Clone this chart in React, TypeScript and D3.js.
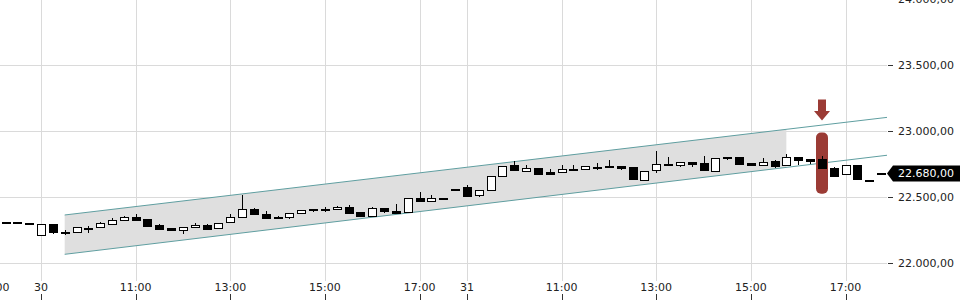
import React from "react";
import * as d3 from "d3";

// ---- data ----
const days = ["29", "30", "31"];
const slots = ["09:00","09:15","09:30","09:45","10:00","10:15","10:30","10:45","11:00","11:15","11:30","11:45","12:00","12:15","12:30","12:45","13:00","13:15","13:30","13:45","14:00","14:15","14:30","14:45","15:00","15:15","15:30","15:45","16:00","16:15","16:30","16:45","17:00","17:15","17:30","17:45"];
const prevDaySlots = ["17:00", "17:15", "17:30", "17:45"];
const categories: string[] = [
  ...prevDaySlots.map((s) => `${days[0]} ${s}`),
  ...slots.map((s) => `${days[1]} ${s}`),
  ...slots.map((s) => `${days[2]} ${s}`),
];

const opens: (number | null)[] = [null,
  22310, 22315, 22305,
  22212, 22298, 22235, 22232, 22268, 22275, 22300, 22326, 22353, 22336, 22292, 22265, 22247, 22275, 22292, 22265, 22308, 22348, 22411, 22376, 22347, 22345, 22376, 22411, 22408, 22409, 22426, 22389, 22356, 22417, 22396, 22385, 22492, 22470, 22493, 22560,
  22576, 22515, 22553, 22659, 22742, 22701, 22720, 22694, 22689, 22711, 22712, 22733, 22735, 22735, 22727, 22636, 22705, 22755, 22742, 22767, 22760, 22705, 22806, 22808, 22762, 22745, 22773, 22745, 22805, 22790, 22790, 22724, 22674, 22742, 22630, 22681];
const highs: (number | null)[] = [null,
  22310, 22315, 22305,
  22298, 22298, 22252, 22275, 22283, 22312, 22342, 22358, 22373, 22336, 22295, 22265, 22273, 22308, 22297, 22305, 22373, 22514, 22417, 22394, 22357, 22380, 22406, 22411, 22429, 22434, 22439, 22389, 22424, 22417, 22451, 22492, 22540, 22515, 22493, 22562,
  22593, 22555, 22659, 22737, 22775, 22742, 22720, 22714, 22745, 22742, 22735, 22758, 22783, 22735, 22727, 22701, 22851, 22803, 22765, 22767, 22815, 22800, 22806, 22808, 22762, 22795, 22783, 22826, 22805, 22790, 22813, 22730, 22742, 22747, 22630, 22681];
const lows: (number | null)[] = [null,
  22295, 22305, 22300,
  22212, 22222, 22217, 22230, 22232, 22275, 22300, 22326, 22330, 22285, 22262, 22250, 22224, 22275, 22265, 22263, 22306, 22348, 22371, 22348, 22333, 22333, 22376, 22389, 22386, 22409, 22379, 22354, 22356, 22381, 22383, 22385, 22467, 22470, 22491, 22560,
  22505, 22500, 22553, 22659, 22701, 22701, 22674, 22676, 22689, 22711, 22705, 22707, 22724, 22709, 22633, 22623, 22682, 22745, 22730, 22730, 22705, 22705, 22783, 22758, 22747, 22745, 22720, 22745, 22747, 22752, 22720, 22664, 22674, 22633, 22628, 22680];
const closes: (number | null)[] = [null,
  22310, 22305, 22300,
  22298, 22235, 22237, 22273, 22270, 22305, 22328, 22348, 22333, 22285, 22265, 22250, 22273, 22292, 22265, 22303, 22348, 22409, 22371, 22348, 22349, 22379, 22401, 22401, 22410, 22424, 22379, 22356, 22417, 22394, 22383, 22492, 22467, 22492, 22491, 22562,
  22510, 22555, 22659, 22737, 22701, 22720, 22674, 22682, 22712, 22713, 22735, 22730, 22724, 22722, 22633, 22701, 22750, 22745, 22765, 22750, 22705, 22800, 22804, 22758, 22748, 22770, 22732, 22805, 22780, 22777, 22720, 22664, 22742, 22633, 22628, 22680];

const yTicks = [22000, 22500, 23000, 23500, 24000];
const xTickCats = ["29 17:00", "30 09:00", "30 11:00", "30 13:00", "30 15:00", "30 17:00", "31 09:00", "31 11:00", "31 13:00", "31 15:00", "31 17:00"];
const xTickLabels = ["17:00", "30", "11:00", "13:00", "15:00", "17:00", "31", "11:00", "13:00", "15:00", "17:00"];

// trend channel anchors [category, price]
const channelTop: [string, number][] = [["30 09:30", 22366], ["31 17:45", 23100]];
const channelBottom: [string, number][] = [["30 09:30", 22068], ["31 17:45", 22813]];
const channelFillEnd = "31 15:45";

const signalCat = "31 16:30";
const signalRange = [22527, 22990];
const lastPrice = 22680;

// ---- layout ----
const W = 960;
const H = 300;
const plotRight = 887;
const gridBottom = 281;

const fmt = d3.formatLocale({ decimal: ",", thousands: ".", grouping: [3], currency: ["", ""] }).format(",.2f");

export default function App() {
  const x = d3.scaleLinear().domain([0, categories.length - 1]).range([-6.3, 881]);
  const y = d3.scaleLinear().domain([22000, 24000]).range([263.3, -0.7]);
  const xc = (c: string) => x(categories.indexOf(c));
  const bw = 8;

  const lineAt = (anch: [string, number][], idx: number) => {
    const i0 = categories.indexOf(anch[0][0]);
    const i1 = categories.indexOf(anch[1][0]);
    const t = (idx - i0) / (i1 - i0);
    return anch[0][1] + t * (anch[1][1] - anch[0][1]);
  };
  const iStart = categories.indexOf(channelTop[0][0]);
  const iFillEnd = categories.indexOf(channelFillEnd);
  const iLineEnd = x.invert(plotRight);

  const fillPts: [number, number][] = [
    [x(iStart), y(lineAt(channelTop, iStart))],
    [x(iFillEnd), y(lineAt(channelTop, iFillEnd))],
    [x(iFillEnd), y(lineAt(channelBottom, iFillEnd))],
    [x(iStart), y(lineAt(channelBottom, iStart))],
  ];
  const lineGen = d3.line<number>().x((i) => x(i)).y((i) => y(0) * 0 + 0);

  const sx = Math.round(xc(signalCat));
  const sy0 = y(signalRange[1]);
  const sy1 = y(signalRange[0]);
  const arrowTip = sy0 - 12;

  const ly = y(lastPrice);

  return (
    <svg width={W} height={H} style={{ position: "absolute", left: 0, top: 0, fontFamily: "DejaVu Sans, sans-serif" }}>
      <rect x={0} y={0} width={W} height={H} fill="#fff" />
      {/* horizontal grid */}
      {yTicks.map((t) => (
        <line key={"hg" + t} x1={0} x2={plotRight} y1={Math.round(y(t)) + 0.5} y2={Math.round(y(t)) + 0.5} stroke="#dadada" />
      ))}
      {/* vertical grid */}
      {xTickCats.map((c, i) => {
        const xx = Math.round(x(categories.indexOf(c))) + 0.5;
        return <line key={"vg" + i} x1={xx} x2={xx} y1={0} y2={gridBottom} stroke="#dadada" />;
      })}
      {/* channel */}
      <polygon points={fillPts.map((p) => p.join(",")).join(" ")} fill="#dfdfdf" />
      {[channelTop, channelBottom].map((anch, k) => (
        <line key={"ch" + k} x1={x(iStart)} y1={y(lineAt(anch, iStart))} x2={x(iLineEnd)} y2={y(lineAt(anch, iLineEnd))} stroke="#5f9ea0" strokeWidth={1} />
      ))}
      {/* signal highlight */}
      <rect x={sx - 6} y={sy0} width={12} height={sy1 - sy0} rx={5} ry={5} fill="#9b3b35" />
      <path
        d={`M${sx - 4},${arrowTip - 21} L${sx + 4},${arrowTip - 21} L${sx + 4},${arrowTip - 9.5} L${sx + 8},${arrowTip - 9.5} L${sx},${arrowTip} L${sx - 8},${arrowTip - 9.5} L${sx - 4},${arrowTip - 9.5} Z`}
        fill="#9b3b35"
      />
      {/* candles */}
      {categories.map((c, i) => {
        const o = opens[i], h = highs[i], l = lows[i], cl = closes[i];
        if (o == null || h == null || l == null || cl == null) return null;
        const cx = Math.round(x(i)) + 0.5;
        const yo = y(o), yc = y(cl);
        const top = Math.round(Math.min(yo, yc));
        const bh = Math.max(1, Math.round(Math.abs(yo - yc)));
        const up = cl >= o;
        return (
          <g key={c}>
            <line x1={cx} x2={cx} y1={Math.round(y(Math.max(h, o, cl)))} y2={Math.round(y(Math.min(l, o, cl)))} stroke="#000" />
            <rect x={cx - bw / 2} y={top + 0.5} width={bw} height={bh} fill={up ? "#fff" : "#000"} stroke="#000" />
          </g>
        );
      })}
      {/* y axis */}
      {yTicks.map((t) => (
        <g key={"yt" + t}>
          <line x1={888} x2={893} y1={Math.round(y(t)) + 0.5} y2={Math.round(y(t)) + 0.5} stroke="#333" />
          <text x={898} y={y(t)} dy="0.35em" fontSize={11} fill="#222">{fmt(t)}</text>
        </g>
      ))}
      {/* last price label */}
      <path d={`M${plotRight},${ly} L${893},${ly - 8} L${W},${ly - 8} L${W},${ly + 8} L${893},${ly + 8} Z`} fill="#000" />
      <text x={898} y={ly} dy="0.35em" fontSize={11} fill="#fff">{fmt(lastPrice)}</text>
      {/* x axis */}
      {xTickCats.map((c, i) => {
        const xx = x(categories.indexOf(c));
        return (
          <g key={"xt" + i}>
            <text x={xx} y={291} textAnchor="middle" fontSize={11} fill="#222">{xTickLabels[i]}</text>
            <line x1={Math.round(xx) + 0.5} x2={Math.round(xx) + 0.5} y1={294} y2={300} stroke="#333" />
          </g>
        );
      })}
    </svg>
  );
}
